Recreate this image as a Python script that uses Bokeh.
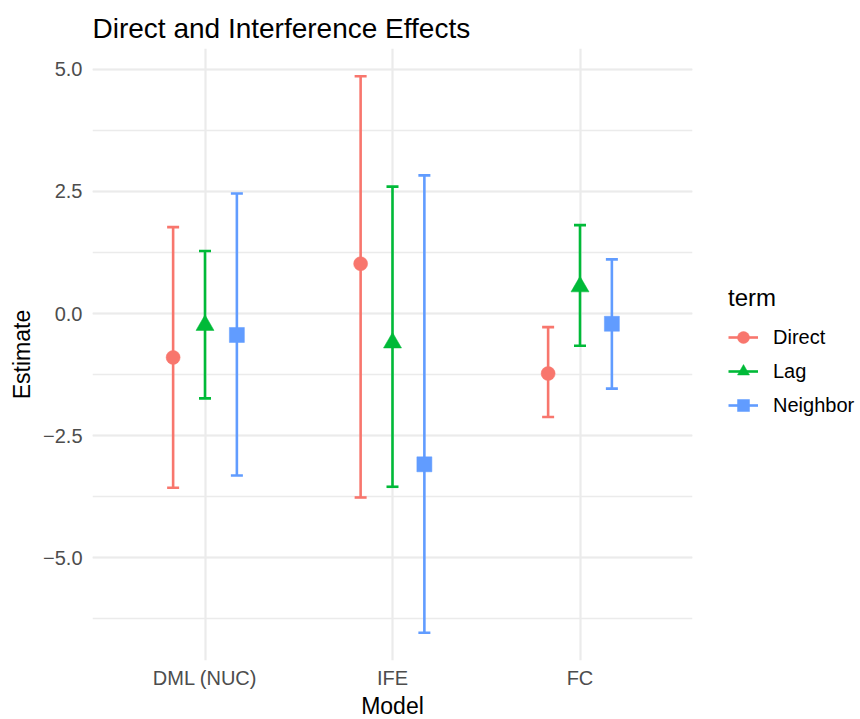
from bokeh.plotting import figure
from bokeh.models import (ColumnDataSource, FactorRange, Range1d, SingleIntervalTicker,
                          Legend, LegendItem)
from bokeh.transform import dodge
from bokeh.embed import file_html
from bokeh.resources import INLINE

models = ["DML (NUC)", "IFE", "FC"]
terms = ["Direct", "Lag", "Neighbor"]

direct_est = [-0.90, 1.02, -1.23]
direct_lo = [-3.57, -3.77, -2.12]
direct_hi = [1.77, 4.86, -0.28]

lag_est = [-0.24, -0.60, 0.55]
lag_lo = [-1.74, -3.55, -0.66]
lag_hi = [1.28, 2.60, 1.81]

nb_est = [-0.44, -3.09, -0.21]
nb_lo = [-3.32, -6.54, -1.54]
nb_hi = [2.46, 2.83, 1.11]

y_ticks = [-5.0, -2.5, 0.0, 2.5, 5.0]
y_tick_labels = ["\u22125.0", "\u22122.5", "0.0", "2.5", "5.0"]

colors = ["#F8766D", "#00BA38", "#619CFF"]
markers = ["circle", "triangle", "square"]
sizes = [14, 18, 15]
offsets = [-0.17, 0.0, 0.17]
cap_half = 0.032

series = [
    (direct_est, direct_lo, direct_hi),
    (lag_est, lag_lo, lag_hi),
    (nb_est, nb_lo, nb_hi),
]

FONT = "Liberation Sans"

p = figure(
    x_range=FactorRange(factors=models, range_padding=0.1, range_padding_units="absolute"),
    y_range=Range1d(-7.11, 5.43),
    frame_width=600, frame_height=612,
    min_border_left=92, min_border_right=160, min_border_top=48, min_border_bottom=59,
    output_backend="svg", toolbar_location=None,
    background_fill_color="white", border_fill_color="white",
)
p.outline_line_color = None

p.title.text = "Direct and Interference Effects"
p.title.text_font = FONT
p.title.text_font_size = "28px"
p.title.text_font_style = "normal"
p.title.text_color = "black"
p.title.align = "left"
p.title.standoff = 9

# axes
p.yaxis.ticker = SingleIntervalTicker(interval=2.5, num_minor_ticks=2)
p.yaxis.major_label_overrides = {v: s for v, s in zip(y_ticks, y_tick_labels)}
for ax in (p.xaxis[0], p.yaxis[0]):
    ax.axis_line_color = None
    ax.major_tick_line_color = None
    ax.minor_tick_line_color = None
    ax.major_tick_out = 0
    ax.major_tick_in = 0
    ax.minor_tick_out = 0
    ax.minor_tick_in = 0
    ax.major_label_text_font = FONT
    ax.major_label_text_font_size = "20px"
    ax.major_label_text_color = "#4D4D4D"
    ax.axis_label_text_font = FONT
    ax.axis_label_text_font_size = "23px"
    ax.axis_label_text_font_style = "normal"
    ax.axis_label_text_color = "black"
p.xaxis.axis_label = "Model"
p.yaxis.axis_label = "Estimate"
p.yaxis.major_label_standoff = 10
p.yaxis.axis_label_standoff = 5
p.xaxis.major_label_standoff = 6
p.xaxis.axis_label_standoff = 1

p.xgrid.grid_line_color = "#EBEBEB"
p.xgrid.grid_line_width = 2.2
p.ygrid.grid_line_color = "#EBEBEB"
p.ygrid.grid_line_width = 2.2
p.ygrid.minor_grid_line_color = "#EBEBEB"
p.ygrid.minor_grid_line_width = 1.3

items = []
for term, (est, lo, hi), col, mk, sz, off in zip(terms, series, colors, markers, sizes, offsets):
    src = ColumnDataSource(dict(model=models, est=est, lo=lo, hi=hi))
    seg = p.segment(x0=dodge("model", off, range=p.x_range), y0="lo",
                    x1=dodge("model", off, range=p.x_range), y1="hi",
                    source=src, line_color=col, line_width=2.6)
    p.segment(x0=dodge("model", off - cap_half, range=p.x_range), y0="hi",
              x1=dodge("model", off + cap_half, range=p.x_range), y1="hi",
              source=src, line_color=col, line_width=2.6)
    p.segment(x0=dodge("model", off - cap_half, range=p.x_range), y0="lo",
              x1=dodge("model", off + cap_half, range=p.x_range), y1="lo",
              source=src, line_color=col, line_width=2.6)
    pts = p.scatter(x=dodge("model", off, range=p.x_range), y="est", source=src,
                    marker=mk, size=sz, fill_color=col, line_color=col, line_width=0.5)
    items.append(LegendItem(label=term, renderers=[seg, pts]))

legend = Legend(items=items, location=(36, 238), title="term",
                title_text_font=FONT, title_text_font_size="24px",
                title_text_font_style="normal", title_text_color="black",
                title_standoff=8,
                label_text_font=FONT, label_text_font_size="20px", label_text_color="black",
                glyph_width=30, glyph_height=34, label_height=34, spacing=0,
                label_standoff=15, padding=0, margin=0,
                border_line_color=None, background_fill_alpha=0)
p.add_layout(legend, "right")

open("out.html", "w").write(file_html(p, INLINE))
